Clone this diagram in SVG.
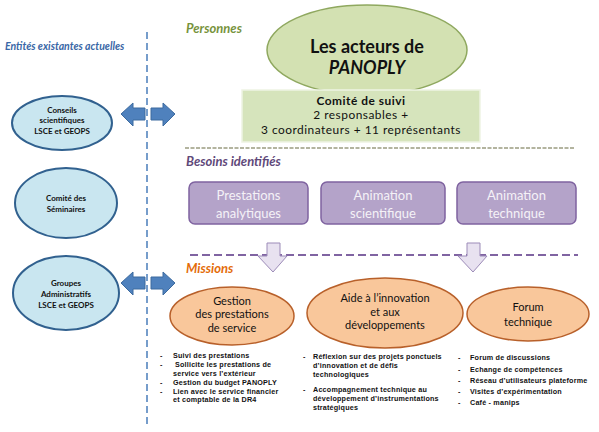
<svg xmlns="http://www.w3.org/2000/svg" width="599" height="432" viewBox="0 0 599 432">
<defs>
<style>
text{font-family:Lato,"Liberation Sans",sans-serif;}
.sec{font-weight:bold;font-style:italic;font-size:12px;}
.ent{fill:#c9e6f0;stroke:#31618f;stroke-width:2;}
.entt{font-size:8px;font-weight:bold;fill:#111;text-anchor:middle;}
.barrow{fill:#4f81bd;stroke:#3d6b9f;stroke-width:1;}
.need{fill:#b4a3c9;stroke:#7f63a0;stroke-width:1.5;}
.needt{font-size:13px;fill:#f4f2f7;text-anchor:middle;}
.mis{fill:#f9c79b;stroke:#b8602a;stroke-width:1.5;}
.mist{font-size:11px;fill:#111;text-anchor:middle;}
.darrow{fill:#e8e2f0;stroke:#9c8bb8;stroke-width:1;}
.li{font-family:"Liberation Sans",Arial,sans-serif;font-size:7.2px;letter-spacing:0.2px;font-weight:bold;fill:#111;}
.cs{font-size:11.9px;letter-spacing:0.5px;fill:#111;text-anchor:middle;}
</style>
</defs>

<text x="5" y="50" class="sec" fill="#3a67a6" style="font-size:10.5px">Entités existantes actuelles</text>
<text x="186" y="33" class="sec" fill="#77933c" style="font-size:13px">Personnes</text>
<text x="186" y="166" class="sec" fill="#5f497a" style="font-size:13px">Besoins identifiés</text>
<text x="186" y="273" class="sec" fill="#e46c0a" style="font-size:13px">Missions</text>

<g id="dividers">
<line x1="147" y1="32" x2="147" y2="426" stroke="#4a7ebb" stroke-width="1.5" stroke-dasharray="7,4"/>
<line x1="185" y1="148" x2="575" y2="148" stroke="#9a9c80" stroke-width="1.5" stroke-dasharray="4,1.5"/>
<line x1="190" y1="255" x2="578" y2="255" stroke="#8064a2" stroke-width="2" stroke-dasharray="8,4"/>
</g>

<g id="connectors">
<path class="barrow" d="M121,114 L133,103 L133,108 L145,108 L145,120 L133,120 L133,126 Z"/>
<path class="barrow" d="M175,114 L163,103 L163,108 L151,108 L151,120 L163,120 L163,126 Z"/>
<path class="barrow" d="M121,283 L133,272 L133,277 L145,277 L145,289 L133,289 L133,295 Z"/>
<path class="barrow" d="M175,283 L163,272 L163,277 L151,277 L151,289 L163,289 L163,295 Z"/>
<path class="darrow" d="M267,243 L280,243 L280,256 L287,256 L273,272 L258,256 L267,256 Z"/>
<path class="darrow" d="M467,243 L480,243 L480,256 L487,256 L473,272 L458,256 L467,256 Z"/>
</g>

<g id="conseils">
<ellipse class="ent" cx="62" cy="123" rx="50" ry="27"/>
<text class="entt" x="62" y="113">Conseils</text>
<text class="entt" x="62" y="123">scientifiques</text>
<text class="entt" x="62" y="134">LSCE et GEOPS</text>
</g>
<g id="comite-seminaires">
<ellipse class="ent" cx="66" cy="203" rx="51" ry="35"/>
<text class="entt" x="66" y="201">Comité des</text>
<text class="entt" x="66" y="212">Séminaires</text>
</g>
<g id="groupes">
<ellipse class="ent" cx="66" cy="293" rx="53" ry="37"/>
<text class="entt" x="66" y="286">Groupes</text>
<text class="entt" x="66" y="297">Administratifs</text>
<text class="entt" x="66" y="308">LSCE et GEOPS</text>
</g>

<g id="acteurs">
<ellipse cx="367" cy="50" rx="100" ry="45" fill="#d3e1b2" stroke="#8fa85f" stroke-width="1.5"/>
<text x="367" y="53" text-anchor="middle" font-size="18" font-weight="bold" fill="#111">Les acteurs de</text>
<text x="367" y="74" text-anchor="middle" font-size="18" font-weight="bold" font-style="italic" fill="#111">PANOPLY</text>
</g>
<g id="comite-suivi">
<rect x="242" y="90" width="238" height="52" fill="#d6e4bc" stroke="#eef3e3" stroke-width="1.5"/>
<text class="cs" x="361" y="104.5" font-weight="bold">Comité de suivi</text>
<text class="cs" x="361" y="119.3">2 responsables +</text>
<text class="cs" x="361" y="134.1">3 coordinateurs + 11 représentants</text>
</g>

<g id="prestations">
<rect class="need" x="189" y="182" width="119" height="42" rx="6"/>
<text class="needt" x="248.5" y="200">Prestations</text>
<text class="needt" x="248.5" y="218">analytiques</text>
</g>
<g id="animation-scientifique">
<rect class="need" x="321" y="182" width="124" height="42" rx="6"/>
<text class="needt" x="383" y="200">Animation</text>
<text class="needt" x="383" y="218">scientifique</text>
</g>
<g id="animation-technique">
<rect class="need" x="457" y="182" width="119" height="42" rx="6"/>
<text class="needt" x="516.5" y="200">Animation</text>
<text class="needt" x="516.5" y="218">technique</text>
</g>

<g id="gestion">
<ellipse class="mis" cx="232" cy="316" rx="62" ry="29"/>
<text class="mist" x="232" y="305">Gestion</text>
<text class="mist" x="232" y="318">des prestations</text>
<text class="mist" x="232" y="332">de service</text>
</g>
<g id="aide">
<ellipse class="mis" cx="385" cy="313" rx="78" ry="35"/>
<text class="mist" x="385" y="302">Aide à l’innovation</text>
<text class="mist" x="385" y="316">et aux</text>
<text class="mist" x="385" y="329">développements</text>
</g>
<g id="forum">
<ellipse class="mis" cx="528" cy="314" rx="61" ry="27"/>
<text class="mist" x="528" y="311">Forum</text>
<text class="mist" x="528" y="326">technique</text>
</g>

<g id="list-gestion">
<text class="li" x="160" y="358">-</text><text class="li" x="173" y="358">Suivi des prestations</text>
<text class="li" x="160" y="367">-</text><text class="li" x="175" y="367">Sollicite les prestations de</text>
<text class="li" x="173" y="375.5">service vers l’extérieur</text>
<text class="li" x="160" y="384.5">-</text><text class="li" x="173" y="384.5">Gestion du budget PANOPLY</text>
<text class="li" x="160" y="393.5">-</text><text class="li" x="173" y="393.5">Lien avec le service financier</text>
<text class="li" x="173" y="402">et comptable de la DR4</text>
</g>
<g id="list-aide">
<text class="li" x="303" y="359">-</text><text class="li" x="313" y="359">Réflexion sur des projets ponctuels</text>
<text class="li" x="313" y="368">d’innovation et de défis</text>
<text class="li" x="313" y="377">technologiques</text>
<text class="li" x="303" y="392">-</text><text class="li" x="313" y="392">Accompagnement technique au</text>
<text class="li" x="313" y="401">développement d’instrumentations</text>
<text class="li" x="313" y="410">stratégiques</text>
</g>
<g id="list-forum">
<text class="li" x="458" y="360">-</text><text class="li" x="470" y="360">Forum de discussions</text>
<text class="li" x="458" y="372">-</text><text class="li" x="470" y="372">Echange de compétences</text>
<text class="li" x="458" y="383">-</text><text class="li" x="470" y="383">Réseau d’utilisateurs plateforme</text>
<text class="li" x="458" y="394">-</text><text class="li" x="470" y="394">Visites d’expérimentation</text>
<text class="li" x="458" y="405">-</text><text class="li" x="470" y="405">Café - manips</text>
</g>
</svg>
